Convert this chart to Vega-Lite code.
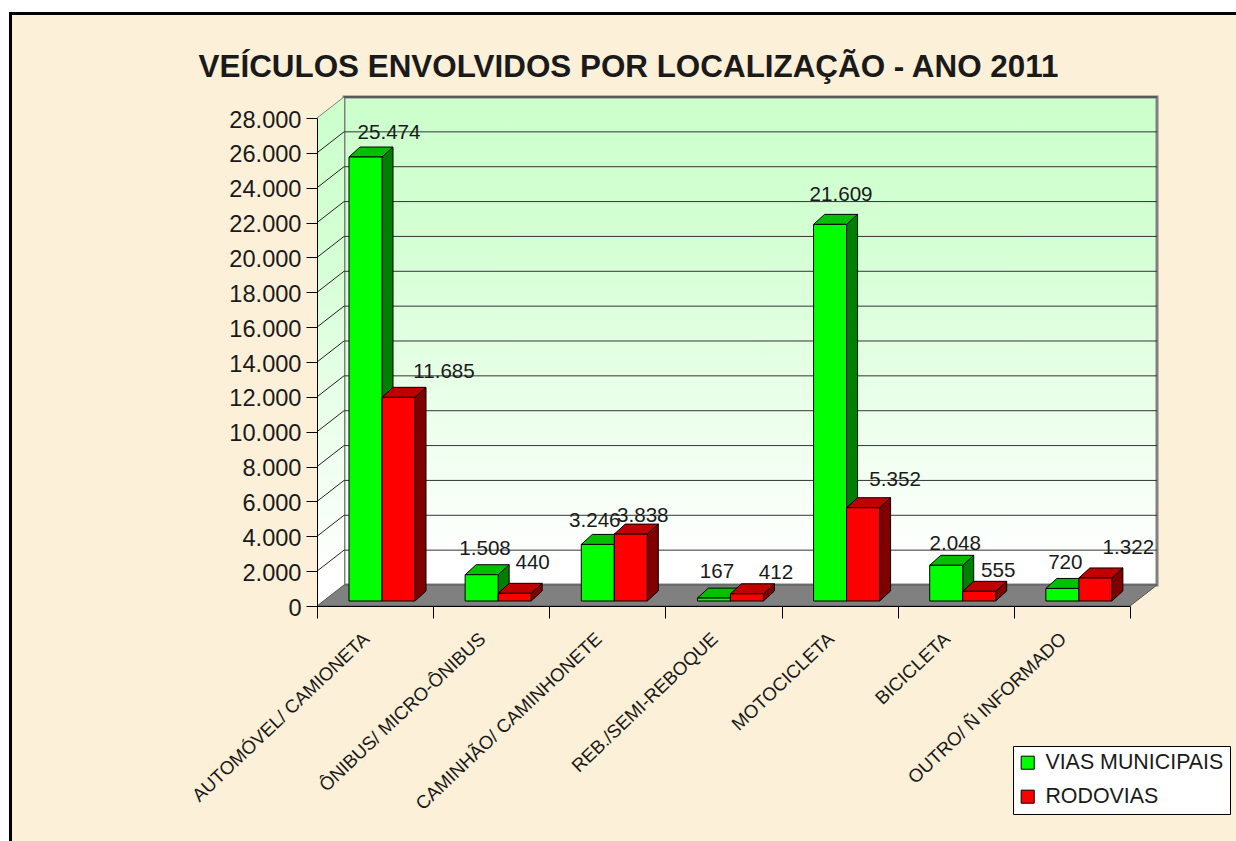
{
"$schema":"https://vega.github.io/schema/vega-lite/v6.json",
"width":813,"height":488,
"autosize":{"type":"none"},
"padding":{"left":317,"top":118,"right":106,"bottom":235},
"background":"#ffffff",
"title":{"text":"VEÍCULOS ENVOLVIDOS POR LOCALIZAÇÃO - ANO 2011","font":"Liberation Sans","fontSize":31.4,"fontWeight":"bold","color":"#1a1a1a","anchor":"middle","dx":-95,"dy":103,"offset":0,"baseline":"bottom"},
"config":{"view":{"stroke":null},"font":"Liberation Sans"},
"resolve":{"axis":{"x":"independent","y":"independent"}},
"datasets":{
"barras":[
{"ordem":1,"categoria":"AUTOMÓVEL/ CAMIONETA","serie":"VIAS MUNICIPAIS","valor":25474},
{"ordem":1,"categoria":"AUTOMÓVEL/ CAMIONETA","serie":"RODOVIAS","valor":11685},
{"ordem":2,"categoria":"ÔNIBUS/ MICRO-ÔNIBUS","serie":"VIAS MUNICIPAIS","valor":1508},
{"ordem":2,"categoria":"ÔNIBUS/ MICRO-ÔNIBUS","serie":"RODOVIAS","valor":440},
{"ordem":3,"categoria":"CAMINHÃO/ CAMINHONETE","serie":"VIAS MUNICIPAIS","valor":3246},
{"ordem":3,"categoria":"CAMINHÃO/ CAMINHONETE","serie":"RODOVIAS","valor":3838},
{"ordem":4,"categoria":"REB./SEMI-REBOQUE","serie":"VIAS MUNICIPAIS","valor":167},
{"ordem":4,"categoria":"REB./SEMI-REBOQUE","serie":"RODOVIAS","valor":412},
{"ordem":5,"categoria":"MOTOCICLETA","serie":"VIAS MUNICIPAIS","valor":21609},
{"ordem":5,"categoria":"MOTOCICLETA","serie":"RODOVIAS","valor":5352},
{"ordem":6,"categoria":"BICICLETA","serie":"VIAS MUNICIPAIS","valor":2048},
{"ordem":6,"categoria":"BICICLETA","serie":"RODOVIAS","valor":555},
{"ordem":7,"categoria":"OUTRO/ Ñ INFORMADO","serie":"VIAS MUNICIPAIS","valor":720},
{"ordem":7,"categoria":"OUTRO/ Ñ INFORMADO","serie":"RODOVIAS","valor":1322}
],
"marcas":[{"marca":2000},{"marca":4000},{"marca":6000},{"marca":8000},{"marca":10000},{"marca":12000},{"marca":14000},{"marca":16000},{"marca":18000},{"marca":20000},{"marca":22000},{"marca":24000},{"marca":26000},{"marca":28000}],
"fundo":[{"p":0},{"p":1}],
"um":[{"n":1}]
},
"layer":[
{"data":{"name":"um"},"mark":{"type":"rect","color":"#000000"},
 "encoding":{"x":{"datum":-2.652,"type":"quantitative","scale":{"domain":[0,7],"nice":false,"zero":false},"axis":null},
 "x2":{"datum":7.95},
 "y":{"datum":34081,"type":"quantitative","scale":{"domain":[0,28000],"nice":false,"zero":false},"axis":null},
 "y2":{"datum":-13700}}},
{"data":{"name":"um"},"mark":{"type":"rect","color":"#FCF0D8"},
 "encoding":{"x":{"datum":-2.626,"type":"quantitative","scale":{"domain":[0,7],"nice":false,"zero":false},"axis":null},"x2":{"datum":7.95},
 "y":{"datum":33909,"type":"quantitative","scale":{"domain":[0,28000],"nice":false,"zero":false},"axis":null},"y2":{"datum":-13700}}},
{"data":{"name":"um"},"mark":{"type":"rect","stroke":"#808080","strokeWidth":3,"color":{"gradient":"linear","x1":0,"y1":0,"x2":0,"y2":1,"stops":[{"offset":0,"color":"#CCFFCC"},{"offset":0.3,"color":"#D4FFD4"},{"offset":0.95,"color":"#FFFFFF"},{"offset":1,"color":"#FFFFFF"}]}},
 "encoding":{"x":{"datum":0.2325,"type":"quantitative","scale":{"domain":[0,7],"nice":false,"zero":false},"axis":null},"x2":{"datum":7.2325},
 "y":{"datum":1205,"type":"quantitative","scale":{"domain":[0,28000],"nice":false,"zero":false},"axis":null},"y2":{"datum":29205}}},
{"data":{"name":"fundo"},
 "transform":[{"calculate":"datum.p*0.2325","as":"xp"},{"calculate":"datum.p*1205","as":"yb"},{"calculate":"28000+datum.p*1205","as":"yt"}],
 "mark":{"type":"area","color":{"gradient":"linear","x1":0,"y1":0,"x2":0,"y2":1,"stops":[{"offset":0,"color":"#CCFFCC"},{"offset":0.3,"color":"#D4FFD4"},{"offset":0.95,"color":"#FFFFFF"},{"offset":1,"color":"#FFFFFF"}]}},
 "encoding":{"x":{"field":"xp","type":"quantitative","scale":{"domain":[0,7],"nice":false,"zero":false},"axis":null},
 "y":{"field":"yb","type":"quantitative","scale":{"domain":[0,28000],"nice":false,"zero":false},"axis":null},"y2":{"field":"yt"}}},
{"data":{"name":"fundo"},
 "transform":[{"calculate":"datum.p*1205","as":"yp"},{"calculate":"datum.p*0.2325","as":"xa"},{"calculate":"7+datum.p*0.2325","as":"xb"}],
 "mark":{"type":"area","orient":"horizontal","color":"#808080","stroke":"#555555","strokeWidth":1},
 "encoding":{"y":{"field":"yp","type":"quantitative","scale":{"domain":[0,28000],"nice":false,"zero":false},"axis":null},
 "x":{"field":"xa","type":"quantitative","scale":{"domain":[0,7],"nice":false,"zero":false},"axis":null},"x2":{"field":"xb"}}},
{"data":{"name":"marcas"},
 "transform":[{"calculate":"datum.marca+1205","as":"yf"}],
 "mark":{"type":"rule","color":"#333333","strokeWidth":1},
 "encoding":{"x":{"datum":0.2325,"type":"quantitative","scale":{"domain":[0,7],"nice":false,"zero":false},"axis":null},"x2":{"datum":7.2325},
 "y":{"field":"yf","type":"quantitative","scale":{"domain":[0,28000],"nice":false,"zero":false},"axis":null}}},
{"data":{"name":"marcas"},
 "transform":[{"calculate":"[0,1]","as":"p"},{"flatten":["p"]},{"calculate":"datum.p*0.2325","as":"xp"},{"calculate":"datum.marca+datum.p*1205","as":"yp"}],
 "mark":{"type":"line","strokeWidth":1},
 "encoding":{"x":{"field":"xp","type":"quantitative","scale":{"domain":[0,7],"nice":false,"zero":false},"axis":null},
 "y":{"field":"yp","type":"quantitative","scale":{"domain":[0,28000],"nice":false,"zero":false},"axis":null},
 "detail":{"field":"marca"},
 "color":{"condition":{"test":"datum.marca==28000","value":"#808080"},"value":"#222222"},
 "strokeWidth":{"condition":{"test":"datum.marca==28000","value":3},"value":1}}},
{"data":{"name":"barras"},
 "transform":[
 {"calculate":"datum.ordem-1+(datum.serie=='RODOVIAS'?0.5597:0.2755)+0.2842","as":"xd"},
 {"calculate":"[0,1]","as":"p"},{"flatten":["p"]},
 {"calculate":"datum.xd+datum.p*0.0947","as":"xs"},
 {"calculate":"287+datum.p*574","as":"yb"},
 {"calculate":"287+datum.valor+datum.p*574","as":"yt"},
 {"calculate":"datum.serie=='RODOVIAS'?'#800000':'#008000'","as":"corLado"}],
 "mark":{"type":"area","stroke":"#000000","strokeWidth":1},
 "encoding":{"x":{"field":"xs","type":"quantitative","scale":{"domain":[0,7],"nice":false,"zero":false},"axis":null},
 "y":{"field":"yb","type":"quantitative","scale":{"domain":[0,28000],"nice":false,"zero":false},"axis":null},"y2":{"field":"yt"},
 "detail":[{"field":"categoria"},{"field":"serie"}],
 "fill":{"field":"corLado","type":"nominal","scale":null}}},
{"data":{"name":"barras"},
 "transform":[
 {"calculate":"datum.ordem-1+(datum.serie=='RODOVIAS'?0.5597:0.2755)","as":"xe"},
 {"calculate":"[0,1]","as":"p"},{"flatten":["p"]},
 {"calculate":"datum.xe+datum.p*0.0947","as":"xa"},
 {"calculate":"datum.xe+0.2842+datum.p*0.0947","as":"xb"},
 {"calculate":"287+datum.valor+datum.p*574","as":"yt"},
 {"calculate":"datum.serie=='RODOVIAS'?'#C00000':'#00C000'","as":"corTopo"}],
 "mark":{"type":"area","orient":"horizontal","stroke":"#000000","strokeWidth":1},
 "encoding":{"y":{"field":"yt","type":"quantitative","scale":{"domain":[0,28000],"nice":false,"zero":false},"axis":null},
 "x":{"field":"xa","type":"quantitative","scale":{"domain":[0,7],"nice":false,"zero":false},"axis":null},"x2":{"field":"xb"},
 "detail":[{"field":"categoria"},{"field":"serie"}],
 "fill":{"field":"corTopo","type":"nominal","scale":null}}},
{"data":{"name":"barras"},
 "transform":[
 {"calculate":"datum.ordem-1+(datum.serie=='RODOVIAS'?0.5597:0.2755)","as":"xe"},
 {"calculate":"datum.xe+0.2842","as":"xd"},
 {"calculate":"287","as":"yb"},
 {"calculate":"287+datum.valor","as":"yt"}],
 "mark":{"type":"rect","stroke":"#000000","strokeWidth":1},
 "encoding":{"x":{"field":"xe","type":"quantitative","scale":{"domain":[0,7],"nice":false,"zero":false},"axis":null},"x2":{"field":"xd"},
 "y":{"field":"yb","type":"quantitative","scale":{"domain":[0,28000],"nice":false,"zero":false},"axis":null},"y2":{"field":"yt"},
 "color":{"field":"serie","type":"nominal","scale":{"domain":["VIAS MUNICIPAIS","RODOVIAS"],"range":["#00FF00","#FF0000"]},
 "legend":{"title":null,"orient":"none","legendX":696,"legendY":628,"fillColor":"#FFFFFF","strokeColor":"#000000","padding":6,"symbolType":"square","symbolSize":170,"symbolStrokeColor":"#000000","symbolStrokeWidth":1,"symbolOffset":-2,"labelFontSize":21.4,"labelFont":"Liberation Sans","labelColor":"#1a1a1a","rowPadding":11,"labelOffset":7,"labelLimit":300}}}},
{"data":{"name":"barras"},
 "transform":[
 {"calculate":"datum.ordem+'|'+datum.serie","as":"chave"},
 {"calculate":"{'1|VIAS MUNICIPAIS':[23.5,24],'1|RODOVIAS':[45.5,25],'2|VIAS MUNICIPAIS':[3.4,26],'2|RODOVIAS':[18,30],'3|VIAS MUNICIPAIS':[-3,23],'3|RODOVIAS':[12,18],'4|VIAS MUNICIPAIS':[3,26],'4|RODOVIAS':[29,21],'5|VIAS MUNICIPAIS':[11,29],'5|RODOVIAS':[32,28],'6|VIAS MUNICIPAIS':[9,21],'6|RODOVIAS':[19,20],'7|VIAS MUNICIPAIS':[3,25],'7|RODOVIAS':[33,30]}[datum.chave]","as":"des"},
 {"calculate":"datum.ordem-1+(datum.serie=='RODOVIAS'?0.5597:0.2755)+0.1421+datum.des[0]/116.14","as":"xt"},
 {"calculate":"287+datum.valor+datum.des[1]/0.017429","as":"yt"},
 {"calculate":"replace(format(datum.valor,','),',','.')","as":"rotulo"}],
 "mark":{"type":"text","fontSize":20.6,"font":"Liberation Sans","color":"#1a1a1a","align":"center","baseline":"middle"},
 "encoding":{"x":{"field":"xt","type":"quantitative","scale":{"domain":[0,7],"nice":false,"zero":false},"axis":null},
 "y":{"field":"yt","type":"quantitative","scale":{"domain":[0,28000],"nice":false,"zero":false},"axis":null},
 "text":{"field":"rotulo"}}},
{"data":{"name":"barras"},
 "transform":[{"filter":"datum.serie=='RODOVIAS'"},{"calculate":"datum.ordem-1+0.426","as":"xc"},{"calculate":"-1721","as":"yc"}],
 "mark":{"type":"text","fontSize":18.6,"font":"Liberation Sans","color":"#1a1a1a","align":"right","baseline":"middle","angle":-43.5},
 "encoding":{"x":{"field":"xc","type":"quantitative","scale":{"domain":[0,7],"nice":false,"zero":false},"axis":{"values":[0,1,2,3,4,5,6,7],"labels":false,"title":null,"grid":false,"tickSize":12,"tickColor":"#000000","domainColor":"#000000","zindex":1}},
 "y":{"field":"yc","type":"quantitative","scale":{"domain":[0,28000],"nice":false,"zero":false},"axis":{"values":[0,2000,4000,6000,8000,10000,12000,14000,16000,18000,20000,22000,24000,26000,28000],"labelExpr":"replace(format(datum.value,','),',','.')","title":null,"grid":false,"tickSize":11,"tickColor":"#000000","domainColor":"#000000","labelFontSize":23.6,"labelColor":"#1a1a1a","labelPadding":5,"labelOffset":2,"labelFont":"Liberation Sans","zindex":1}},
 "text":{"field":"categoria"}}}
]
}
